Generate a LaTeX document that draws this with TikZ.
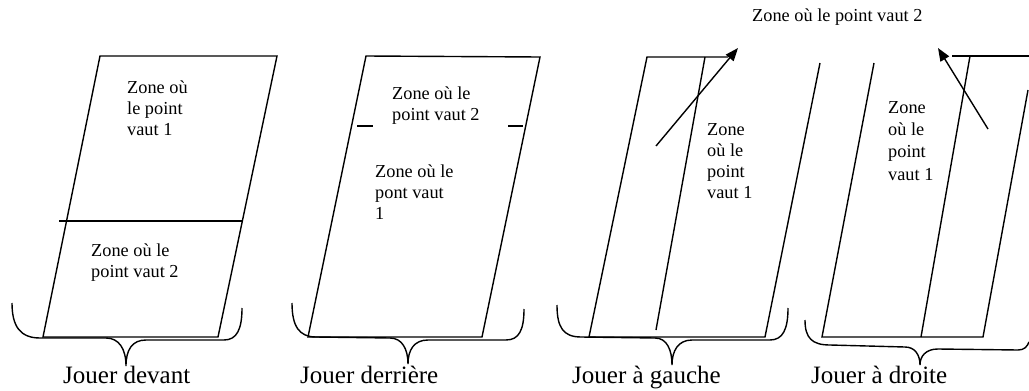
\documentclass[tikz,border=0pt]{standalone}
\usepackage{fontspec}
\setmainfont{Liberation Serif}
\usetikzlibrary{arrows.meta}
\newcommand{\zlines}[1]{\begin{tabular}[t]{@{}l@{}}#1\end{tabular}}
\tikzset{
  edge/.style={line width=1.4pt, line join=miter},
  brace/.style={line width=1.4pt},
  zone/.style={inner sep=0pt, anchor=base west, font=\fontsize{18.3}{21}\selectfont},
  zonewide/.style={inner sep=0pt, anchor=base west, font=\fontsize{18.3}{22.4}\selectfont},
  big/.style={inner sep=0pt, anchor=base west, font=\fontsize{25}{30}\selectfont},
  ptr/.style={line width=1.4pt, -{Triangle[length=13pt,width=10pt]}},
}
\begin{document}
\begin{tikzpicture}[x=1pt,y=-1pt]
\useasboundingbox (0,0) rectangle (1029,391);

% ---------- Panel 1 : Jouer devant ----------
\draw[edge] (100,56) -- (277,56) -- (218,337) -- (43,337) -- cycle;
\draw[edge] (59,221) -- (242,221);
\node[zone] (z1a) at (127,93) {\zlines{Zone où\\le point\\vaut 1}};
\node[zone] (z1b) at (91,256) {\zlines{Zone où le\\point vaut 2}};
\draw[brace] (12,303) .. controls (12,326) and (20,338) .. (40,338)
  -- (106,338) .. controls (119,338) and (126,349) .. (126,366)
  .. controls (126,350) and (132,340) .. (146,340)
  -- (224,340) .. controls (237,340) and (242,329) .. (242,308);
\node[big] (l1) at (63,383) {Jouer devant};

% ---------- Panel 2 : Jouer derrière ----------
\draw[edge] (366,56) -- (540,57) -- (482,337) -- (308,337) -- cycle;
\draw[edge] (357,126) -- (373,126);
\draw[edge] (508,126) -- (523,126);
\node[zone] (z2a) at (392,99) {\zlines{Zone où le\\point vaut 2}};
\node[zone] (z2b) at (375,177) {\zlines{Zone où le\\pont vaut\\1}};
\draw[brace] (292,303) .. controls (292,326) and (299,337) .. (316,337)
  -- (390,338) .. controls (402,338) and (408,349) .. (408,364)
  .. controls (408,350) and (414,340) .. (428,340)
  -- (506,340) .. controls (519,340) and (524,330) .. (524,309);
\node[big] (l2) at (300,383) {Jouer derrière};

% ---------- Panel 3 : Jouer à gauche ----------
\draw[edge] (728,57) -- (647,57) -- (589,337) -- (765,337) -- (820,63);
\draw[edge] (705,57) -- (656,330);
\coordinate (a3s) at (656,146);
\coordinate (a3e) at (738,48);
\draw[ptr] (a3s) -- (a3e);
\node[zone] (z3) at (707,135) {\zlines{Zone\\où le\\point\\vaut 1}};
\draw[brace] (557,305) .. controls (557,327) and (563,337) .. (581,337)
  -- (655,338) .. controls (667,338) and (672,350) .. (672,365)
  .. controls (672,351) and (678,340) .. (692,340)
  -- (770,340) .. controls (783,340) and (788,329) .. (788,308);
\node[big] (l3) at (572,383) {Jouer à gauche};

% ---------- Panel 4 : Jouer à droite ----------
\draw[edge] (874,63) -- (822,337) -- (983,337) -- (1028,90);
\draw[edge] (952,56) -- (1029,56);
\draw[edge] (970,56) -- (921,337);
\coordinate (a4s) at (988,129);
\coordinate (a4e) at (938,48);
\draw[ptr] (a4s) -- (a4e);
\node[zonewide] (z4) at (888,113) {\zlines{Zone\\où le\\point\\vaut 1}};
\draw[brace] (805,320) .. controls (805,338) and (812,345) .. (830,345)
  -- (905,347) .. controls (915,347) and (920,355) .. (920,365)
  .. controls (920,356) and (926,349) .. (938,349)
  -- (1018,350) .. controls (1024,350) and (1027,347) .. (1029,342);
\node[big] (l4) at (811,383) {Jouer à droite};

% ---------- top label ----------
\node[zone] (top) at (752,21) {Zone où le point vaut 2};
\end{tikzpicture}
\end{document}
